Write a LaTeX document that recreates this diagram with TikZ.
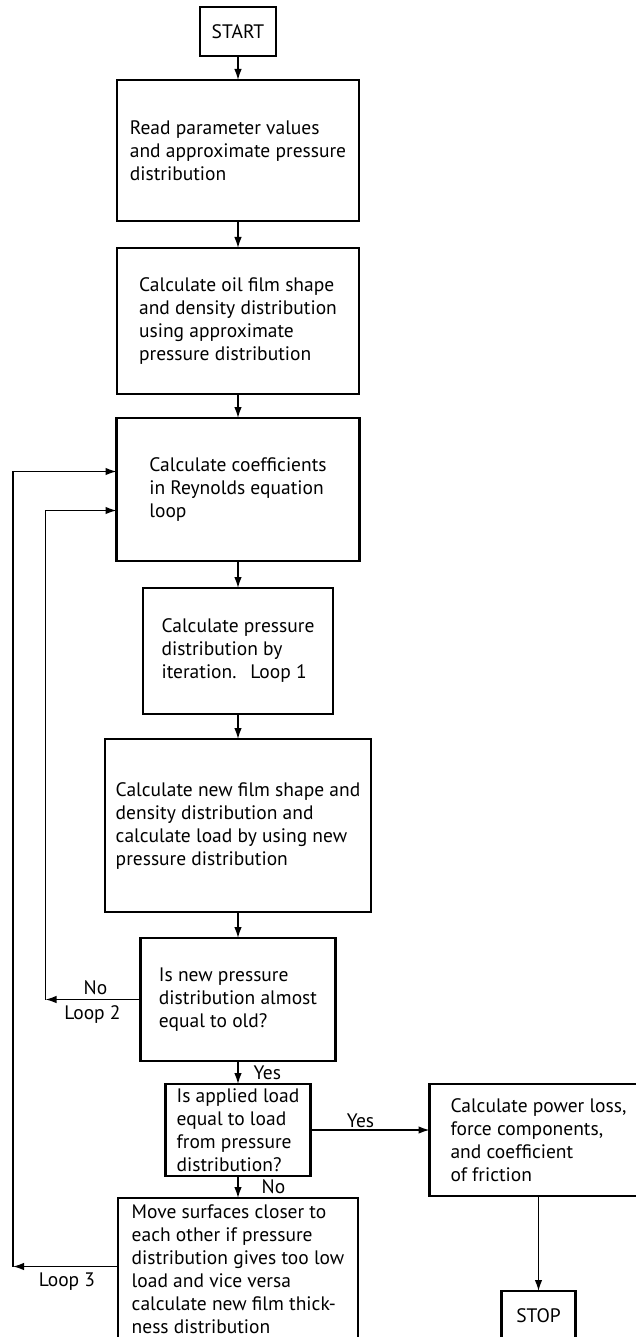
\documentclass[tikz,border=0pt]{standalone}
\usepackage{fontspec}
\setmainfont{PT Sans}
\usepackage{tikz}
\usetikzlibrary{arrows.meta,positioning}
\newcommand{\flowfont}{\fontsize{19.5}{23}\selectfont}

\begin{document}
\begin{tikzpicture}[
  x=1pt, y=1pt,
  node distance=25pt and 119pt,
  box/.style={draw, line width=2.4pt, outer sep=0pt, align=left, inner sep=0pt, font=\flowfont},
  term/.style={box, align=center, minimum width=76pt, minimum height=49pt},
  arrow/.style={-{Latex[length=11pt,width=7.5pt]}, line width=1.4pt},
  note/.style={font=\flowfont, inner sep=2pt}
]
\useasboundingbox (0,0) rectangle (636,-1337);
\clip (0,0) rectangle (636,-1337);

% main column
\node[term] (start) at (238,-31.5) {START};
\node[box, below=24pt of start, minimum width=242pt, minimum height=141pt] (read)
  {Read parameter values\\and approximate pressure\\distribution};
\node[box, below=27pt of read, minimum width=242pt, minimum height=146pt] (shape)
  {Calculate oil film shape\\and density distribution\\using approximate\\pressure distribution};
\node[box, below=24pt of shape, minimum width=243pt, minimum height=143pt] (coef)
  {Calculate coefficients\\in Reynolds equation\\loop};
\node[box, below=27pt of coef, minimum width=190pt, minimum height=126pt] (press)
  {Calculate pressure\\distribution by\\iteration.\hspace{14pt}Loop 1};
\node[box, below=of press, minimum width=266pt, minimum height=173pt] (load)
  {Calculate new film shape and\\density distribution and\\calculate load by using new\\pressure distribution};
\node[box, below=26pt of load, minimum width=195pt, minimum height=123pt] (conv)
  {Is new pressure\\distribution almost\\equal to old?};
\node[box, below=23pt of conv, minimum width=145pt, minimum height=92pt] (check)
  {Is applied load\\equal to load\\from pressure\\distribution?};
\node[box, below=22pt of check, minimum width=240pt, minimum height=142pt] (move)
  {Move surfaces closer to\\each other if pressure\\distribution gives too low\\load and vice versa\\calculate new film thick-\\ness distribution};

% exit branch
\node[box, right=of check.north east, anchor=north west, minimum width=218pt, minimum height=112pt] (power)
  {Calculate power loss,\\force components,\\and coefficient\\of friction};
\node[term, below=95pt of power, minimum width=74pt] (stop) {STOP};

% loop corners
\coordinate (loop2) at ([xshift=-95pt]conv.west);
\coordinate (loop3) at ([xshift=-105pt,yshift=2.5pt]move.west);

\draw[arrow] (start) -- (read);
\draw[arrow] (read) -- (shape);
\draw[arrow] (shape) -- (coef);
\draw[arrow] (coef) -- (press);
\draw[arrow] (press) -- (load);
\draw[arrow] (load) -- (conv);
\draw[arrow] (conv) -- node[note, right=13pt] (yes1) {Yes} (check);
\draw[arrow] (check) -- node[note, right=21pt] (no1) {No} (move);
\draw[arrow] (check.east) -- node[note, above, pos=0.42] (yes2) {Yes} (check.east -| power.west);
\draw[arrow] (power) -- (stop);

\draw[arrow] (conv.west) -- (loop2);
\draw[arrow] (loop2) |- ([yshift=-21pt]coef.west);
\draw[arrow] (move.west |- loop3) -- (loop3);
\draw[arrow] (loop3) |- ([yshift=18pt]coef.west);

\node[note, anchor=south] (no2) at ([xshift=50pt,yshift=3pt]loop2) {No};
\node[note, anchor=north] (loop2lbl) at ([xshift=47pt,yshift=-4pt]loop2) {Loop 2};
\node[note, anchor=north] (loop3lbl) at ([xshift=54pt,yshift=-4pt]loop3) {Loop 3};
\end{tikzpicture}
\end{document}
